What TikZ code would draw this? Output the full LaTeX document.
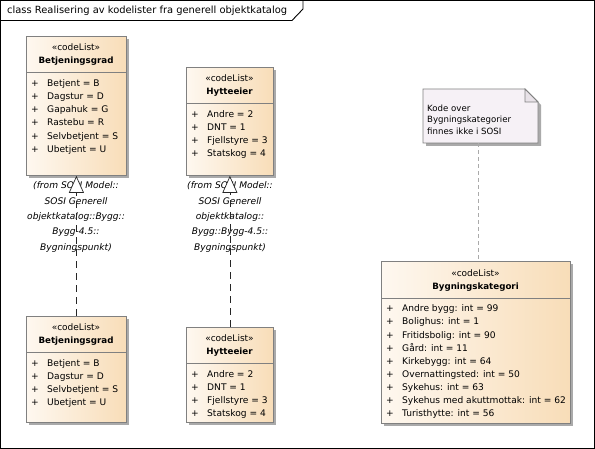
\documentclass[tikz,border=0pt]{standalone}
\usepackage{fontspec}
\setmainfont{DejaVu Sans}
\usetikzlibrary{arrows.meta,shadows}
\definecolor{boxborder}{RGB}{128,128,128}
\definecolor{fillL}{RGB}{254,248,240}
\definecolor{fillR}{RGB}{248,221,184}
\definecolor{shadowc}{RGB}{170,170,170}
\definecolor{notefill}{RGB}{246,241,246}
\definecolor{foldfill}{RGB}{232,226,232}
\definecolor{linkc}{RGB}{170,170,170}
\newcommand{\attrfont}{\fontsize{9.1}{11}\selectfont}
\newcommand{\stereofont}{\fontsize{9}{10}\selectfont}
\newcommand{\namefont}{\fontsize{8.7}{10}\selectfont\bfseries}
\tikzset{
  classbox/.style={draw=boxborder, line width=0.8pt, left color=fillL, right color=fillR,
    drop shadow={shadow xshift=3pt, shadow yshift=-3pt, fill=shadowc, opacity=1},
    inner sep=0pt, anchor=north west},
  sepline/.style={draw=boxborder, line width=0.8pt},
  attr/.style={anchor=west, inner sep=0pt, font=\attrfont, text height=6.6pt, text depth=0pt},
  hdr/.style={anchor=center, inner sep=0pt, text height=6.4pt, text depth=0pt},
  fromlbl/.style={align=center, inner sep=0pt, font=\fontsize{9.1}{15.3}\selectfont\itshape},
  realize/.style={draw=black!85, line width=0.7pt, dash pattern=on 7pt off 5pt,
    -{Triangle[open, fill=white, length=17pt, width=15pt, line width=0.7pt]}},
  notelink/.style={draw=linkc, line width=0.7pt, dash pattern=on 4pt off 3pt},
}
\begin{document}
\begin{tikzpicture}[x=1pt,y=-1pt]
\useasboundingbox (0,0) rectangle (595,449);
% frame
\draw[line width=0.9pt] (0.5,0.5) rectangle (594.5,448.5);
\draw[line width=0.9pt] (0.5,20.5) -- (292,20.5) -- (303,9) -- (303,0.5);
\node[anchor=west, inner sep=0pt, font=\fontsize{9.9}{11}\selectfont, text height=7pt, text depth=0pt] (title) at (7,10.5) {class Realisering av kodelister fra generell objektkatalog};

% class boxes
\node[classbox, minimum width=100pt, minimum height=139pt] (b1) at (26,36) {};
\draw[sepline] (26,72) -- (126,72);
\node[hdr, font=\stereofont] (b1s) at (76,47.5) {«codeList»};
\node[hdr, font=\namefont] (b1n) at (76,60.5) {Betjeningsgrad};
\foreach \t [count=\i from 0] in {Betjent = B, Dagstur = D, Gapahuk = G, Rastebu = R, Selvbetjent = S, Ubetjent = U}{
  \node[attr] (b1p\i) at (31,83+13.2*\i) {+};
  \node[attr] (b1a\i) at (47,83+13.2*\i) {\t};
}

\node[classbox, minimum width=87pt, minimum height=108pt] (b2) at (186,67) {};
\draw[sepline] (186,103) -- (273,103);
\node[hdr, font=\stereofont] (b2s) at (229.5,78.5) {«codeList»};
\node[hdr, font=\namefont] (b2n) at (229.5,91.5) {Hytteeier};
\foreach \t [count=\i from 0] in {Andre = 2, DNT = 1, Fjellstyre = 3, Statskog = 4}{
  \node[attr] (b2p\i) at (191,114+13.2*\i) {+};
  \node[attr] (b2a\i) at (207,114+13.2*\i) {\t};
}

\node[classbox, minimum width=100pt, minimum height=106pt] (b3) at (26,316) {};
\draw[sepline] (26,352) -- (126,352);
\node[hdr, font=\stereofont] (b3s) at (76,327.5) {«codeList»};
\node[hdr, font=\namefont] (b3n) at (76,340.5) {Betjeningsgrad};
\foreach \t [count=\i from 0] in {Betjent = B, Dagstur = D, Selvbetjent = S, Ubetjent = U}{
  \node[attr] (b3p\i) at (31,363+13.2*\i) {+};
  \node[attr] (b3a\i) at (47,363+13.2*\i) {\t};
}

\node[classbox, minimum width=87pt, minimum height=95pt] (b4) at (186,327) {};
\draw[sepline] (186,363) -- (273,363);
\node[hdr, font=\stereofont] (b4s) at (229.5,338.5) {«codeList»};
\node[hdr, font=\namefont] (b4n) at (229.5,351.5) {Hytteeier};
\foreach \t [count=\i from 0] in {Andre = 2, DNT = 1, Fjellstyre = 3, Statskog = 4}{
  \node[attr] (b4p\i) at (191,374+13.2*\i) {+};
  \node[attr] (b4a\i) at (207,374+13.2*\i) {\t};
}

\node[classbox, minimum width=189pt, minimum height=162pt] (bk) at (381,261) {};
\draw[sepline] (381,298) -- (570,298);
\node[hdr, font=\stereofont] (bks) at (475.5,273) {«codeList»};
\node[hdr, font=\namefont] (bkn) at (475.5,286) {Bygningskategori};
\foreach \t [count=\i from 0] in {Andre bygg: int = 99, Bolighus: int = 1, Fritidsbolig: int = 90, Gård: int = 11, Kirkebygg: int = 64, Overnattingsted: int = 50, Sykehus: int = 63, Sykehus med akuttmottak: int = 62, Turisthytte: int = 56}{
  \node[attr] (bkp\i) at (386,308.5+13.1*\i) {+};
  \node[attr] (bka\i) at (402,308.5+13.1*\i) {\t};
}

% note
\fill[shadowc] (426,92) -- (528,92) -- (541,105) -- (541,146) -- (426,146) -- cycle;
\draw[boxborder, line width=0.8pt, fill=notefill] (423,89) -- (525,89) -- (538,102) -- (538,143) -- (423,143) -- cycle;
\draw[boxborder, line width=0.8pt, fill=foldfill] (525,89) -- (525,102) -- (538,102) -- cycle;
\node[minimum width=115pt, minimum height=54pt, inner sep=0pt, anchor=north west] (note) at (423,89) {};
\node[anchor=north west, inner sep=0pt, align=left, font=\fontsize{8.6}{11.5}\selectfont] (notet) at (427,104.5) {Kode over\\Bygningskategorier\\finnes ikke i SOSI};

% from labels
\node[fromlbl] (l1) at (76,217) {(from SOSI Model::\\SOSI Generell\\objektkatalog::Bygg::\\Bygg-4.5::\\Bygningspunkt)};
\node[fromlbl] (l2) at (230,217) {(from SOSI Model::\\SOSI Generell\\objektkatalog::\\Bygg::Bygg-4.5::\\Bygningspunkt)};

% connectors
\draw[realize] (b3.north) -- (b1.south);
\draw[realize] (b4.north) -- (b2.south);
\draw[notelink] ([xshift=-2.5pt]note.south) -- ([xshift=-2.5pt]note.south |- bk.north);
\end{tikzpicture}
\end{document}
